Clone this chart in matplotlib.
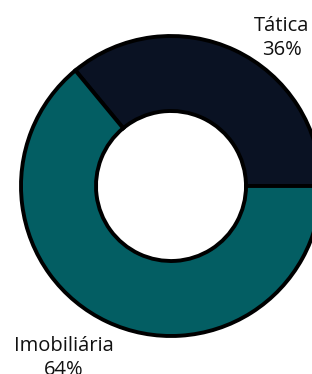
import matplotlib
matplotlib.use("Agg")
import matplotlib.pyplot as plt

categories = ["Tática", "Imobiliária"]
values = [36, 64]
colors = ["#0a1223", "#035e63"]

W, H = 312, 374
cx, cy, R = 171, 186, 150

fig = plt.figure(figsize=(W / 100, H / 100), dpi=100)
ax = fig.add_axes([0, 0, 1, 1])

wedges, _ = ax.pie(values, colors=colors, startangle=0, counterclock=True,
                   radius=1.0, center=(0, 0), frame=True,
                   wedgeprops=dict(width=0.5, edgecolor="black", linewidth=2.8))
ax.set_xlim(-cx / R, (W - cx) / R)
ax.set_ylim(-(H - cy) / R, cy / R)
ax.set_aspect("equal")
ax.axis("off")

label_pos = [((282 - cx) / R, (cy - 38) / R), ((64 - cx) / R, (cy - 358) / R)]
total = sum(values)
for name, v, (x, y) in zip(categories, values, label_pos):
    ax.text(x, y, f"{name}\n{round(100 * v / total)}%", ha="center", va="center",
            fontsize=14.5, family=["Open Sans", "DejaVu Sans"], color="#111111",
            linespacing=1.3)

fig.savefig("out.png", dpi=100)
